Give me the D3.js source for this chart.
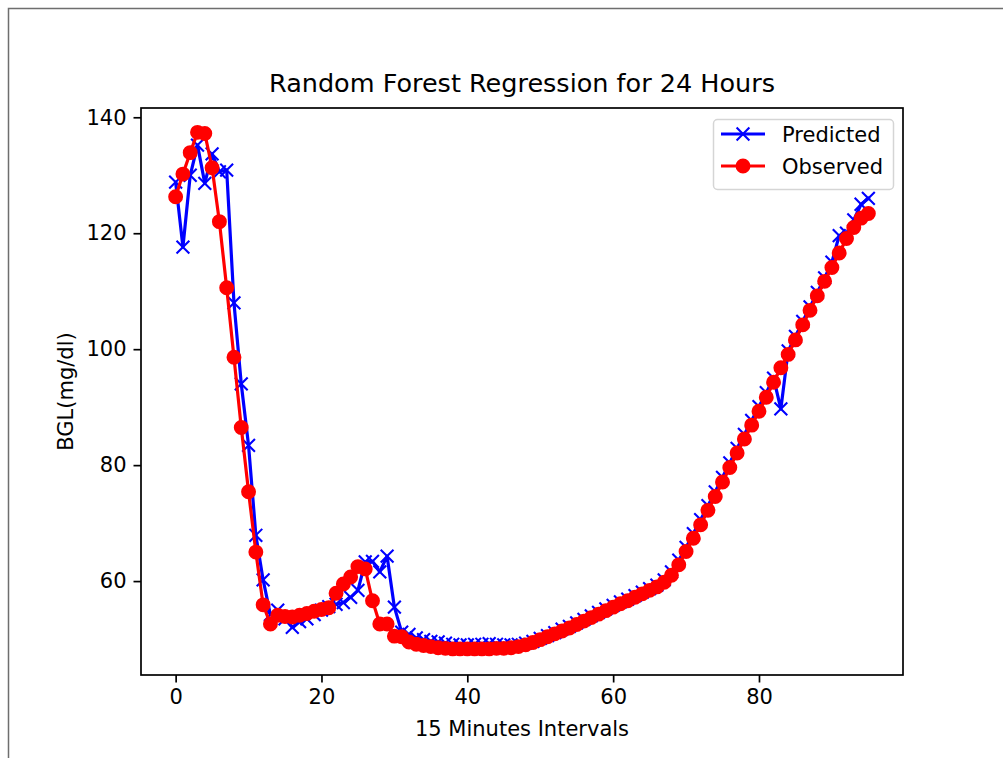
<!DOCTYPE html>
<html>
<head>
<meta charset="utf-8">
<script src="https://cdnjs.cloudflare.com/ajax/libs/d3/7.8.5/d3.min.js"></script>
<style>
  body { margin: 0; background: #fff; }
  svg { display: block; font-family: "DejaVu Sans", sans-serif; }
</style>
</head>
<body>
<svg id="main-svg"></svg>
<script>
const svg = d3.select("#main-svg");

// DATA
const predicted = [
  128.8, 117.6, 130.0, 135.2, 128.6, 133.7, 130.6, 130.9, 108.0, 94.0,
  83.4, 67.9, 60.2, 54.2, 55.0, 53.5, 52.0, 53.0, 53.5, 54.2,
  55.0, 55.6, 56.0, 56.3, 57.2, 58.4, 63.3, 63.4, 61.6, 64.3,
  55.5, 51.2, 50.8, 50.2, 49.9, 49.6, 49.5, 49.3, 49.1, 49.0,
  49.0, 49.1, 49.1, 49.2, 49.1, 49.0, 49.0, 49.1, 49.3, 49.6,
  50.1, 50.6, 51.1, 51.7, 52.2, 52.8, 53.4, 54.0, 54.6, 55.2,
  55.8, 56.4, 56.9, 57.5, 58.1, 58.7, 59.3, 60.2, 61.6, 63.6,
  65.8, 68.2, 70.6, 73.0, 75.4, 77.9, 80.4, 82.9, 85.3, 87.7,
  90.1, 92.5, 95.0, 89.7, 99.7, 102.2, 104.8, 107.3, 109.8, 112.3,
  115.0, 119.6, 120.0, 122.3, 125.0, 126.0
];
const observed = [
  126.3, 130.2, 133.9, 137.4, 137.2, 131.3, 122.0, 110.6, 98.6, 86.5,
  75.4, 65.0, 55.9, 52.6, 54.1, 53.9, 53.8, 54.1, 54.4, 54.8,
  55.1, 55.4, 57.9, 59.5, 60.7, 62.5, 62.1, 56.6, 52.6, 52.6,
  50.5, 50.4, 49.5, 49.1, 48.9, 48.7, 48.5, 48.4, 48.3, 48.3,
  48.3, 48.3, 48.3, 48.3, 48.4, 48.4, 48.5, 48.7, 49.0, 49.4,
  49.9, 50.4, 50.9, 51.4, 51.9, 52.5, 53.1, 53.7, 54.3, 54.9,
  55.5, 56.1, 56.6, 57.2, 57.8, 58.4, 59.0, 59.8, 61.0, 62.8,
  65.1, 67.4, 69.7, 72.2, 74.6, 77.1, 79.6, 82.1, 84.5, 86.9,
  89.3, 91.7, 94.3, 96.8, 99.1, 101.6, 104.2, 106.7, 109.2, 111.7,
  114.1, 116.6, 119.1, 121.0, 122.6, 123.4
];
const xTicks = [0, 20, 40, 60, 80];
const yTicks = [60, 80, 100, 120, 140];
const seriesNames = ["Predicted", "Observed"];
const seriesColors = ["#0000ff", "#ff0000"];

// FIXED
CANVAS_WIDTH = 1003
CANVAS_HEIGHT = 758
PLOT_LEFT = 141
PLOT_RIGHT = 903
PLOT_TOP = 108
PLOT_BOTTOM = 675
LINE_WIDTH = 3.2
MARKER_HALF = 6.4
FONT = 21

svg.attr("width", CANVAS_WIDTH).attr("height", CANVAS_HEIGHT);

// frame around the picture
svg.append("path")
  .attr("d", `M8.5 ${CANVAS_HEIGHT} V8.5 H${CANVAS_WIDTH}`)
  .attr("fill", "none")
  .attr("stroke", "#6e6e6e")
  .attr("stroke-width", 1.5);

const x = d3.scaleLinear().domain([-4.75, 99.75]).range([PLOT_LEFT, PLOT_RIGHT]);
const y = d3.scaleLinear().domain([43.8, 141.6]).range([PLOT_BOTTOM, PLOT_TOP]);

const line = d3.line()
  .x((d, i) => x(i))
  .y(d => y(d));

const plot = svg.append("g");

// Predicted line + x markers
plot.append("path")
  .datum(predicted)
  .attr("d", line)
  .attr("fill", "none")
  .attr("stroke", seriesColors[0])
  .attr("stroke-width", LINE_WIDTH)
  .attr("stroke-linejoin", "round")
  .attr("stroke-linecap", "square");

const crossPath = (cx, cy) =>
  `M${cx - MARKER_HALF} ${cy - MARKER_HALF} L${cx + MARKER_HALF} ${cy + MARKER_HALF} ` +
  `M${cx - MARKER_HALF} ${cy + MARKER_HALF} L${cx + MARKER_HALF} ${cy - MARKER_HALF}`;

plot.selectAll(".cross")
  .data(predicted)
  .enter()
  .append("path")
  .attr("class", "cross")
  .attr("d", (d, i) => crossPath(x(i), y(d)))
  .attr("stroke", seriesColors[0])
  .attr("stroke-width", 2.1)
  .attr("fill", "none");

// Observed line + circles
plot.append("path")
  .datum(observed)
  .attr("d", line)
  .attr("fill", "none")
  .attr("stroke", seriesColors[1])
  .attr("stroke-width", LINE_WIDTH)
  .attr("stroke-linejoin", "round");

plot.selectAll(".dot")
  .data(observed)
  .enter()
  .append("circle")
  .attr("class", "dot")
  .attr("cx", (d, i) => x(i))
  .attr("cy", d => y(d))
  .attr("r", 6.4)
  .attr("fill", seriesColors[1])
  .attr("stroke", seriesColors[1])
  .attr("stroke-width", 2.1);

// axes
const xAxis = svg.append("g")
  .attr("transform", `translate(0 ${PLOT_BOTTOM})`)
  .call(d3.axisBottom(x).tickValues(xTicks).tickSizeInner(7.5).tickSizeOuter(0).tickPadding(7));
const yAxis = svg.append("g")
  .attr("transform", `translate(${PLOT_LEFT} 0)`)
  .call(d3.axisLeft(y).tickValues(yTicks).tickSizeInner(7.5).tickSizeOuter(0).tickPadding(7));

[xAxis, yAxis].forEach(a => {
  a.select(".domain").remove();
  a.selectAll(".tick line").attr("stroke", "#000").attr("stroke-width", 1.7);
  a.selectAll(".tick text")
    .attr("fill", "#000")
    .style("font-family", "DejaVu Sans")
    .style("font-size", FONT + "px");
});

// spines
svg.append("rect")
  .attr("x", PLOT_LEFT)
  .attr("y", PLOT_TOP)
  .attr("width", PLOT_RIGHT - PLOT_LEFT)
  .attr("height", PLOT_BOTTOM - PLOT_TOP)
  .attr("fill", "none")
  .attr("stroke", "#000")
  .attr("stroke-width", 1.7);

// title and labels
svg.append("text")
  .attr("x", (PLOT_LEFT + PLOT_RIGHT) / 2)
  .attr("y", 92)
  .attr("text-anchor", "middle")
  .style("font-size", "25.5px")
  .attr("fill", "#000")
  .text("Random Forest Regression for 24 Hours");

svg.append("text")
  .attr("x", (PLOT_LEFT + PLOT_RIGHT) / 2)
  .attr("y", 736)
  .attr("text-anchor", "middle")
  .style("font-size", FONT + "px")
  .attr("fill", "#000")
  .text("15 Minutes Intervals");

svg.append("text")
  .attr("transform", `translate(73 ${(PLOT_TOP + PLOT_BOTTOM) / 2}) rotate(-90)`)
  .attr("text-anchor", "middle")
  .style("font-size", FONT + "px")
  .attr("fill", "#000")
  .text("BGL(mg/dl)");

// legend
const legend = svg.append("g").attr("transform", "translate(713 119)");
legend.append("rect")
  .attr("x", 0.5)
  .attr("y", 0.5)
  .attr("width", 180)
  .attr("height", 70)
  .attr("rx", 4)
  .attr("fill", "rgba(255,255,255,0.8)")
  .attr("stroke", "#d5d5d5")
  .attr("stroke-width", 1.5);

seriesNames.forEach((name, k) => {
  const row = legend.append("g").attr("transform", `translate(0 ${15 + k * 32})`);
  row.append("line")
    .attr("x1", 8).attr("x2", 52)
    .attr("stroke", seriesColors[k])
    .attr("stroke-width", LINE_WIDTH);
  if (k === 0) {
    row.append("path")
      .attr("d", crossPath(30, 0))
      .attr("stroke", seriesColors[k])
      .attr("stroke-width", 2.1);
  } else {
    row.append("circle")
      .attr("cx", 30).attr("r", 6.4)
      .attr("fill", seriesColors[k])
      .attr("stroke", seriesColors[k])
      .attr("stroke-width", 2.1);
  }
  row.append("text")
    .attr("x", 69)
    .attr("y", 7.5)
    .style("font-size", FONT + "px")
    .attr("fill", "#000")
    .text(name);
});
</script>
</body>
</html>
